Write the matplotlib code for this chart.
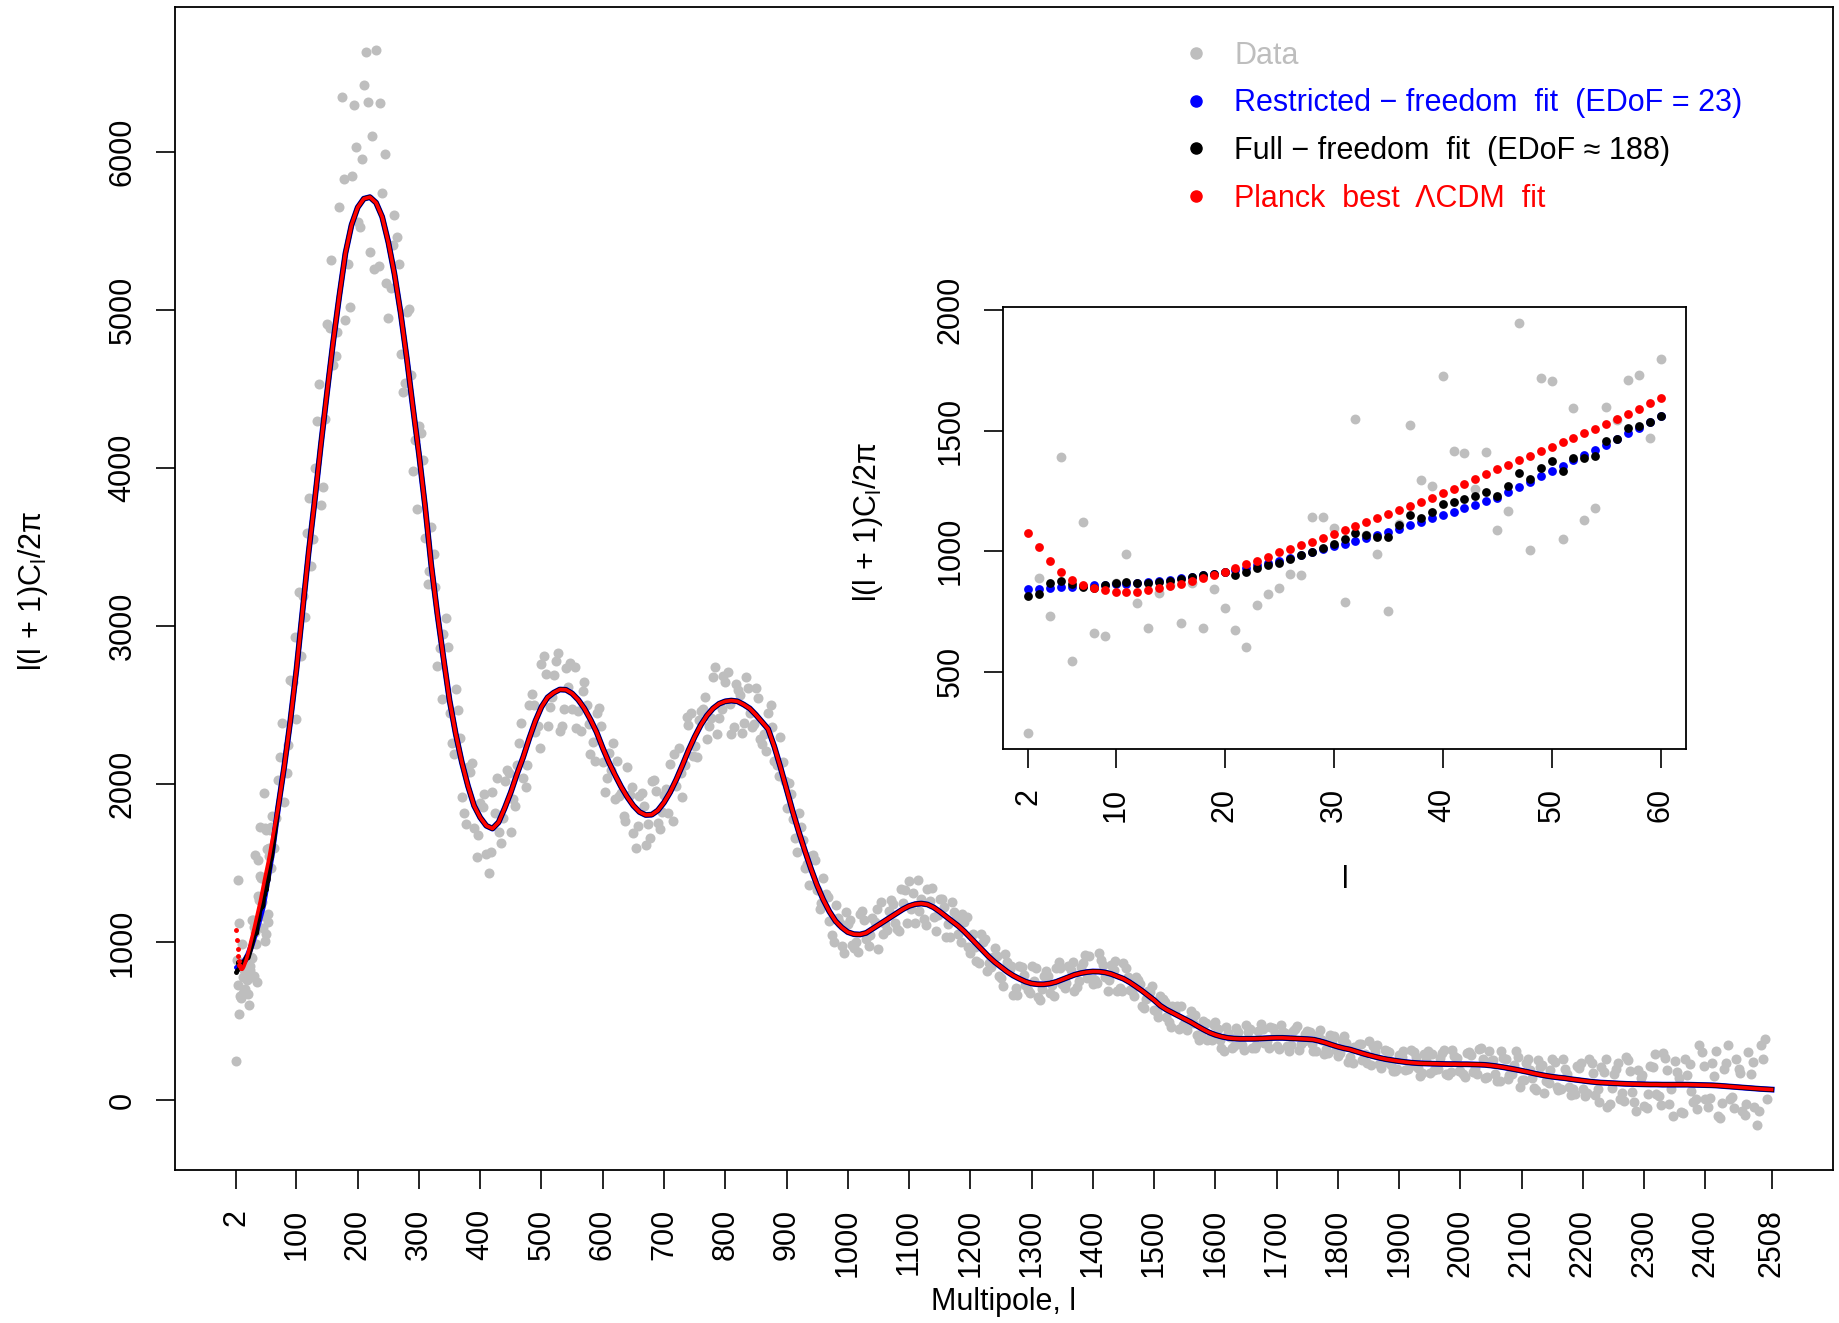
"""
Planck TT spectrum: data vs. three fits, with a zoom on the low multipoles.
"""
import numpy as np
import matplotlib
matplotlib.use("Agg")
import matplotlib.pyplot as plt
from matplotlib.lines import Line2D

plt.rcParams['font.family'] = ['Liberation Sans', 'DejaVu Sans']
plt.rcParams['mathtext.fontset'] = 'custom'
plt.rcParams['mathtext.rm'] = 'Liberation Sans'
plt.rcParams['mathtext.it'] = 'Liberation Sans:italic'

# colours (R defaults)
GREY, BLUE, BLACK, RED = '#BEBEBE', '#0000FF', '#000000', '#FF0000'

# low multipoles, l = 2..60
l_low = list(range(2, 61))
data_low = [247, 889, 731, 1392, 544, 1123, 659, 650, 868, 988,
            784, 681, 826, 860, 704, 870, 681, 843, 765, 672,
            601, 775, 823, 848, 907, 900, 1142, 1142, 1096, 789,
            1551, 1068, 990, 750, 1113, 1524, 1296, 1269, 1728, 1417,
            1409, 1257, 1410, 1088, 1169, 1946, 1007, 1721, 1708, 1051,
            1593, 1130, 1181, 1600, 1544, 1709, 1733, 1470, 1797]
planck_low = [1076, 1017, 959, 914, 882, 860, 848, 838, 832, 830,
              832, 838, 846, 856, 866, 876, 888, 900, 914, 929,
              945, 961, 978, 995, 1010, 1025, 1040, 1056, 1071, 1088,
              1104, 1121, 1138, 1155, 1172, 1189, 1206, 1223, 1240, 1259,
              1279, 1300, 1320, 1341, 1360, 1378, 1397, 1415, 1434, 1452,
              1471, 1490, 1508, 1527, 1548, 1570, 1592, 1614, 1637]
restricted_low = [843, 845, 848, 851, 853, 855, 858, 860, 863, 866,
                  870, 874, 878, 882, 887, 893, 900, 907, 914, 922,
                  931, 941, 951, 961, 972, 984, 996, 1008, 1020, 1032,
                  1044, 1055, 1067, 1079, 1093, 1107, 1121, 1136, 1150, 1164,
                  1179, 1194, 1208, 1223, 1244, 1266, 1288, 1311, 1333, 1355,
                  1377, 1399, 1421, 1443, 1466, 1490, 1513, 1537, 1561]
full_low = [813, 823, 868, 877, 863, 851, 846, 860, 868, 873,
            868, 870, 874, 877, 884, 892, 900, 907, 914, 902,
            914, 930, 942, 953, 968, 983, 998, 1013, 1029, 1050,
            1076, 1066, 1059, 1059, 1110, 1150, 1139, 1165, 1198, 1206,
            1215, 1230, 1245, 1228, 1270, 1324, 1300, 1346, 1373, 1333,
            1387, 1387, 1395, 1459, 1468, 1510, 1522, 1535, 1561]

# higher multipoles, every 10 (the three fits lie on top of each other here)
l_high = list(range(70, 2501, 10)) + [2508]
fit_high = [1850, 2110, 2400, 2725, 3100, 3470, 3800, 4150, 4480, 4800,
            5090, 5360, 5540, 5650, 5705, 5715, 5680, 5590, 5430, 5230,
            4985, 4700, 4390, 4090, 3760, 3390, 3080, 2800, 2530, 2320,
            2140, 1990, 1865, 1790, 1738, 1720, 1760, 1850, 1950, 2065,
            2170, 2290, 2400, 2490, 2550, 2580, 2600, 2598, 2575, 2535,
            2480, 2410, 2330, 2230, 2140, 2060, 1985, 1920, 1865, 1825,
            1806, 1808, 1835, 1885, 1950, 2030, 2120, 2215, 2300, 2375,
            2435, 2480, 2510, 2525, 2530, 2525, 2505, 2480, 2440, 2395,
            2350, 2240, 2110, 1970, 1830, 1700, 1580, 1465, 1360, 1270,
            1195, 1135, 1095, 1065, 1052, 1050, 1060, 1085, 1110, 1135,
            1160, 1185, 1210, 1230, 1242, 1246, 1240, 1222, 1195, 1165,
            1135, 1105, 1070, 1030, 990, 950, 910, 875, 845, 815,
            790, 770, 752, 740, 735, 735, 740, 750, 765, 780,
            795, 805, 812, 816, 815, 810, 800, 785, 770, 748,
            722, 695, 665, 635, 600, 575, 555, 535, 515, 495,
            472, 450, 430, 415, 404, 396, 392, 390, 390, 390,
            391, 393, 395, 396, 396, 394, 392, 390, 388, 385,
            376, 365, 352, 340, 330, 322, 310, 298, 287, 277,
            268, 260, 254, 248, 243, 239, 236, 234, 233, 232,
            231, 230, 230, 229, 229, 228, 227, 225, 221, 216,
            210, 203, 196, 188, 180, 171, 163, 156, 150, 145,
            141, 135, 130, 125, 120, 116, 113, 111, 109, 107,
            105, 104, 103, 102, 101, 101, 100, 100, 100, 100,
            100, 99, 98, 97, 96, 94, 91, 88, 85, 82,
            79, 76, 73, 71, 69]

# data minus fit, three samples per step of l_high (at l-6, l-3 and l), l = 70..2500
res_a = [-250, 60, -330, -80, 120, -410, -420, 150, -600, 90,
         -380, 990, -250, 650, -180, 920, 420, -310, 560, -90,
         480, -220, 620, 90, 460, -120, 380, 60, 520, -60,
         330, -170, 210, -250, 120, -280, 60, -220, 140, -160,
         90, -310, 170, -120, 260, -90, 180, -230, 40, 210,
         -140, 90, -60, 250, -190, 30, 160, -120, 70, -230,
         140, -60, 190, -170, 20, -260, 110, -90, 150, -200,
         40, -110, 230, -50, 180, -160, 60, 200, -80, 150,
         -30, 260, 10, 170, 180, -40, 150, 30, 190, -60,
         110, -90, 60, -130, 90, -50, 140, -110, 20, 120,
         -80, 60, -140, 100, -30, 150, -90, 40, -120, 110,
         -20, 90, -70, 130, 60, -80, 110, -30, 70, -90,
         40, -60, 90, -40, 20, -100, 80, -20, 110, -70,
         30, -90, 60, 100, -50, 80, -110, 40, -60, 90,
         -30, 70, -80, 50, -40, 70, -60, 30, 80, -50,
         20, -70, 60, -30, 50, -80, 10, 70, -40, 40,
         -60, 90, -20, 60, -70, 30, -40, 80, -10, 50,
         -60, 20, -50, 70, -30, 40, -70, 60, 10, -50,
         80, -20, 50, -60, 30, -40, 70, -80, 20, 60,
         -30, 90, -50, 40, -60, 80, -20, 110, -70, 40,
         -90, 60, -30, 90, -50, 20, -100, 70, -40, 100,
         -70, 30, -60, 80, -90, 120, -40, 70, -130, 90,
         -60, 150, -110, 40, -150, 110, -70, 170, -30, 80,
         -180, 130, -90, 210, -140, 60, -200, 150, -60, 120,
         -170, 90, -230, 190]
res_c = [-60, 280, -150, 210, -290, 120, -250, 380, -170, 520,
         -230, 470, -520, 380, 250, 600, -420, 720, -260, 180,
         310, -160, 200, -350, 290, -40, 170, -260, 340, -130,
         150, -240, 270, -110, 200, -150, 280, -60, 120, -200,
         220, -170, 100, -260, 150, -30, 230, -120, 190, -180,
         110, -30, -180, 140, -100, 200, -60, -150, 120, -90,
         60, -150, 120, -60, -130, 160, -50, 210, -120, 30,
         120, -60, -190, 160, -20, 110, -180, 130, -60, -110,
         -140, 120, -60, 50, 110, -130, 70, -100, 160, -20,
         90, -130, 30, 130, -70, -110, 80, -40, 100, -80,
         40, -60, 130, -110, 70, -50, -130, 120, -20, 60,
         -100, 40, 110, -60, -20, 100, -90, 30, -60, 110,
         60, -100, 40, -60, 100, -30, 50, -90, 70, -40,
         80, -50, 110, -20, -70, 50, -40, 100, -80, 30,
         -60, 40, -20, 90, -70, 50, -90, 60, -40, 20,
         70, -30, -50, 60, -20, 70, -60, 40, -70, 60,
         -40, 60, -60, 30, 80, -50, 50, -70, 30, -30,
         40, -70, 60, -20, 50, -80, 30, 60, -50, 70,
         -40, 60, -30, -50, 70, -20, 40, -60, 80, -40,
         40, -60, 90, -40, -80, 60, -60, 40, 90, -50,
         100, -70, 30, -100, 60, -30, 90, -110, 40, -60,
         120, -50, -90, 110, -70, 60, -120, 150, -30, 130,
         -110, 80, -170, 60, -60, 190, -130, 90, -200, 40,
         160, -40, -150, 120, -80, 220, -110, 260, -130, 90,
         -100, 170, -140, 320]
res_b = [180, -220, 260, -310, 90, 340, 200, -380, 430, -150,
         560, -420, 310, -90, 720, -350, 965, 150, -480, 370,
         -260, 290, -410, 180, -200, 240, -330, 150, -80, 280,
         -220, 120, -140, 90, -180, 230, -60, 170, -250, 60,
         -130, 210, -70, 270, -180, 110, -260, 140, -100, -70,
         170, -220, 120, -90, 60, -150, -40, 190, -170, 100,
         -190, 210, -80, 50, 180, -40, -200, 160, -60, 90,
         -150, 200, -90, 120, -210, 70, -120, -30, 170, -140,
         100, -90, 190, -120, -50, 120, -110, 80, -30, 140,
         -60, 100, -120, 50, -90, 130, -40, 70, -150, -20,
         110, -100, 40, 160, -120, 30, 100, -60, 80, -130,
         120, -50, 60, -100, -110, 50, -40, 90, -70, 60,
         -120, 80, -20, 110, -80, 50, -60, 90, -30, 70,
         -100, 40, -40, -80, 120, -30, 60, -90, 100, -50,
         60, -100, 30, -60, 60, -50, 40, -80, -20, 70,
         -60, 50, -40, 80, -70, 30, -50, -20, 90, -60,
         50, -30, 70, -50, 40, -80, 60, -30, 50, -70,
         70, -40, 30, -60, 80, -50, 20, -40, 90, 30,
         -60, 50, -70, 40, -50, 80, -30, 60, -60, -20,
         70, -70, 50, -40, 70, -50, 100, -80, 30, -90,
         60, -40, 120, -60, 80, -90, 50, -30, 110, -80,
         60, -100, 90, -50, 140, -80, 100, -150, 60, -100,
         170, -50, 90, -140, 120, -60, 200, -120, 150, -170,
         60, -110, 250, -90, 140, -190, 110, -80, 180, -150,
         230, -120, 280, -60]

main_xticks = [2] + list(range(100, 2401, 100)) + [2508]
main_yticks = [0, 1000, 2000, 3000, 4000, 5000, 6000]
inset_xticks = [2, 10, 20, 30, 40, 50, 60]
inset_yticks = [500, 1000, 1500, 2000]

legend_labels = ['Data',
                 'Restricted \u2212 freedom  fit  (EDoF = 23)',
                 'Full \u2212 freedom  fit  (EDoF \u2248 188)',
                 'Planck  best  \u039bCDM  fit']
ylab = 'l(l + 1)C$_{\\mathrm{l}}$/2\u03c0'

# assemble series
grid = np.array(l_high[:-1])
fit_grid = np.array(fit_high[:-1])
data_l = np.concatenate([l_low, grid - 6, grid - 3, grid])
data_D = np.concatenate([data_low, fit_grid + np.array(res_a),
                         fit_grid + np.array(res_c), fit_grid + np.array(res_b)])
l_all = np.array(l_low + l_high)
planck_all = np.array(planck_low + fit_high)
restricted_all = np.array(restricted_low + fit_high)
full_all = np.array(full_low + fit_high)

FS = 22
W, H = 1839, 1323
fig = plt.figure(figsize=(W / 100, H / 100), dpi=100)

def style_axes(ax, xticks, yticks):
    for sp in ax.spines.values():
        sp.set_linewidth(1.3)
    ax.set_xticks(xticks)
    ax.set_yticks(yticks)
    ax.tick_params(axis='both', direction='out', length=14, width=1.2, labelsize=FS)
    ax.tick_params(axis='x', labelrotation=90, pad=14)
    ax.tick_params(axis='y', labelrotation=90, pad=13)
    for t in ax.get_yticklabels():
        t.set_va('center')

# main panel
ax = fig.add_axes([175 / W, 1 - 1170 / H, 1658 / W, 1163 / H])
ax.scatter(data_l, data_D, s=52, color=GREY, linewidths=0, zorder=1)
for series, col, lw, z in ((restricted_all, BLUE, 4.2, 2),
                           (full_all, BLACK, 3.6, 3),
                           (planck_all, RED, 2.6, 4)):
    # the first few multipoles show as separate dots, the rest as a dense line
    ax.plot(l_all[:8], series[:8], ls='', marker='o', ms=2.5, color=col, zorder=z)
    ax.plot(l_all[7:], series[7:], color=col, lw=lw, zorder=z)
ax.set_xlim(-98.2, 2608.2)
ax.set_ylim(-440, 6918)
style_axes(ax, main_xticks, main_yticks)

handles = [Line2D([], [], marker='o', ls='', color=c, markersize=8)
           for c in (GREY, BLUE, BLACK, RED)]
ax.legend(handles, legend_labels, loc='upper left',
          bbox_to_anchor=(1184 / W, 1 - 40.5 / H), bbox_transform=fig.transFigure,
          frameon=False, fontsize=FS, labelcolor=[GREY, BLUE, BLACK, RED],
          handlelength=0.8, handletextpad=0.84, labelspacing=0.58,
          borderpad=0, borderaxespad=0)

fig.text(1003 / W, 1 - 1302 / H, 'Multipole, l', ha='center', va='center', fontsize=FS)
fig.text(33 / W, 1 - 591 / H, ylab, ha='center', va='center', rotation=90, fontsize=FS)

# inset, low multipoles
ins = fig.add_axes([1003 / W, 1 - 749 / H, 683 / W, 442 / H])
ins.set_facecolor('white')
ins.scatter(l_low, data_low, s=50, color=GREY, linewidths=0, zorder=1)
ins.scatter(l_low, restricted_low, s=40, color=BLUE, linewidths=0, zorder=2)
ins.scatter(l_low, full_low, s=40, color=BLACK, linewidths=0, zorder=3)
ins.scatter(l_low, planck_low, s=40, color=RED, linewidths=0, zorder=4)
ins.set_xlim(-0.32, 62.32)
ins.set_ylim(179, 2014)
style_axes(ins, inset_xticks, inset_yticks)

fig.text(868 / W, 1 - 522 / H, ylab, ha='center', va='center', rotation=90, fontsize=FS)
fig.text(1345 / W, 1 - 880 / H, 'l', ha='center', va='center', fontsize=FS)

fig.savefig('out.png', dpi=100)
